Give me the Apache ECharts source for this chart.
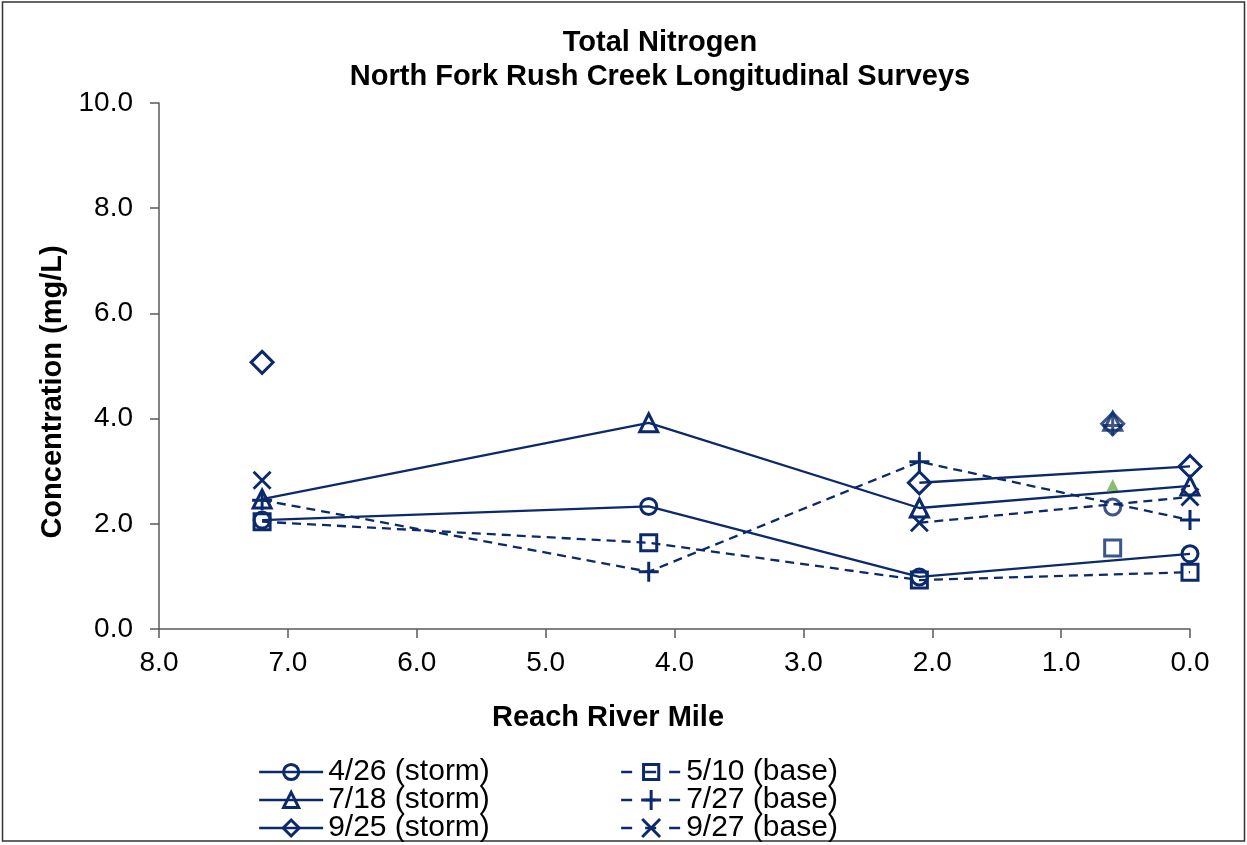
<!DOCTYPE html>
<html>
<head>
<meta charset="utf-8">
<script src="https://cdn.jsdelivr.net/npm/echarts@6/dist/echarts.min.js"></script>
<style>
html,body{margin:0;padding:0;background:#fff;}
#chart{width:1247px;height:845px;}
</style>
</head>
<body>
<div id="chart"></div>
<script>
// ---- data ----
const riverMiles = [7.2, 4.2, 2.1, 0.0];
const tributaryMile = 0.6;
const xTicks = [0, 1, 2, 3, 4, 5, 6, 7, 8];
const yTicks = [0, 2, 4, 6, 8, 10];

const seriesNames = ['4/26 (storm)', '5/10 (base)', '7/18 (storm)', '7/27 (base)', '9/25 (storm)', '9/27 (base)'];
const v0426 = [2.07, 2.33, 0.99, 1.43];
const v0510 = [2.04, 1.64, 0.93, 1.08];
const v0718 = [2.47, 3.92, 2.30, 2.72];
const v0727 = [2.45, 1.09, 3.18, 2.07];
const v0925 = [5.07, null, 2.78, 3.09];
const v0927 = [2.83, null, 2.02, 2.51];
// values at river mile 0.6 (plotted unconnected)
const trib0426 = 2.32;
const trib0510 = 1.54;
const trib0718 = 3.95;
const trib0727 = 3.87;
const trib0925 = 3.90;
const extraGreenTriangle = 2.74;

// ---- styles ----
const NAVY = '#0c2a6b';
const PLUS = 'path://M8.5,0H11.5V8.5H20V11.5H11.5V20H8.5V11.5H0V8.5H8.5Z';
const XMARK = 'path://M0,2.1L2.1,0L10,7.9L17.9,0L20,2.1L12.1,10L20,17.9L17.9,20L10,12.1L2.1,20L0,17.9L7.9,10Z';
const FONT = '"Liberation Sans", Arial, sans-serif';

function pairs(vals){ return riverMiles.map((x,i)=>[x, vals[i]==null ? '-' : vals[i]]); }

const hollow = {color:'rgba(0,0,0,0)', borderColor:NAVY, borderWidth:3};
const filled = {color:NAVY, borderColor:NAVY, borderWidth:0};

const defs = [
  {name:seriesNames[0], vals:v0426, trib:trib0426, symbol:'circle', size:16, dashed:false, style:hollow},
  {name:seriesNames[1], vals:v0510, trib:trib0510, symbol:'rect', size:16, dashed:true, style:hollow},
  {name:seriesNames[2], vals:v0718, trib:trib0718, symbol:'triangle', size:18, dashed:false, style:hollow},
  {name:seriesNames[3], vals:v0727, trib:trib0727, symbol:PLUS, size:20, dashed:true, style:filled},
  {name:seriesNames[4], vals:v0925, trib:trib0925, symbol:'diamond', size:22, dashed:false, style:hollow},
  {name:seriesNames[5], vals:v0927, trib:null, symbol:XMARK, size:19, dashed:true, style:filled}
];

const series = [];
defs.forEach(d=>{
  series.push({
    name:d.name, type:'line', data:pairs(d.vals),
    symbol:d.symbol, symbolSize:d.size, showSymbol:true, showAllSymbol:true,
    connectNulls:false, color:NAVY,
    lineStyle:{color:NAVY, width:2.3, type:d.dashed ? [9,6] : 'solid'},
    itemStyle:d.style, emphasis:{disabled:true}, animation:false, z:3
  });
});
defs.forEach(d=>{
  if (d.trib == null) return;
  series.push({
    name:d.name + ' RM 0.6', type:'scatter', data:[[tributaryMile, d.trib]],
    symbol:d.symbol, symbolSize:d.size, itemStyle:d.style, color:NAVY,
    emphasis:{disabled:true}, animation:false, z:3
  });
});
series.push({
  name:'RM 0.6 extra', type:'scatter', data:[[tributaryMile, extraGreenTriangle]],
  symbol:'triangle', symbolSize:12, itemStyle:{color:'#70ad47'},
  emphasis:{disabled:true}, animation:false, z:2
});

// legends: 2 columns x 3 rows
const legendPos = [
  {name:seriesNames[0], left:258, cy:772, w:64, h:19, hollow:true, dashed:false},
  {name:seriesNames[2], left:258, cy:800, w:64, h:19, hollow:true, dashed:false},
  {name:seriesNames[4], left:258, cy:828, w:64, h:20, hollow:true, dashed:false},
  {name:seriesNames[1], left:620, cy:772, w:60, h:19, hollow:true, dashed:true},
  {name:seriesNames[3], left:620, cy:800, w:60, h:25, hollow:false, dashed:true},
  {name:seriesNames[5], left:620, cy:828, w:60, h:25, hollow:false, dashed:true}
];
const legends = legendPos.map(p=>({
  data:[p.name], left:p.left, top:p.cy-15, padding:0,
  itemWidth:p.w, itemHeight:p.h, itemGap:0, selectedMode:false,
  itemStyle: p.hollow ? {borderWidth:3, borderColor:NAVY, color:'rgba(0,0,0,0)'} : {borderWidth:0, color:NAVY},
  lineStyle:{width:2.3, color:NAVY, type:p.dashed ? [11,13] : 'solid'},
  textStyle:{fontFamily:FONT, fontSize:30, color:'#000', padding:[0,0,0,0]}
}));

const axisLineStyle = {color:'#5a5a5a', width:1.5};

const option = {
  backgroundColor:'#fff',
  animation:false,
  grid:{left:159, right:57, top:103, bottom:216, containLabel:false},
  legend:legends,
  xAxis:{
    type:'value', inverse:true, min:xTicks[0], max:xTicks[xTicks.length-1], interval:1,
    axisLine:{show:true, lineStyle:axisLineStyle, onZero:false},
    axisTick:{show:true, inside:false, length:9, lineStyle:axisLineStyle},
    splitLine:{show:false},
    axisLabel:{formatter:v=>v.toFixed(1), fontFamily:FONT, fontSize:28, color:'#000', margin:20}
  },
  yAxis:{
    type:'value', position:'left', min:yTicks[0], max:yTicks[yTicks.length-1], interval:2,
    axisLine:{show:true, lineStyle:axisLineStyle, onZero:false},
    axisTick:{show:true, inside:false, length:9, lineStyle:axisLineStyle},
    splitLine:{show:false},
    axisLabel:{formatter:v=>v.toFixed(1), fontFamily:FONT, fontSize:28, color:'#000', margin:26}
  },
  graphic:[
    {type:'rect', shape:{x:2.5, y:2, width:1242, height:839}, style:{fill:'none', stroke:'#333', lineWidth:1.5}, silent:true},
    {type:'text', x:660, y:43, style:{text:'Total Nitrogen', font:'bold 29px '+FONT, fill:'#000', textAlign:'center', textVerticalAlign:'middle'}},
    {type:'text', x:660, y:77, style:{text:'North Fork Rush Creek Longitudinal Surveys', font:'bold 29px '+FONT, fill:'#000', textAlign:'center', textVerticalAlign:'middle'}},
    {type:'text', x:53, y:392, rotation:Math.PI/2, style:{text:'Concentration (mg/L)', font:'bold 29px '+FONT, fill:'#000', textAlign:'center', textVerticalAlign:'middle'}},
    {type:'text', x:608, y:718, style:{text:'Reach River Mile', font:'bold 29px '+FONT, fill:'#000', textAlign:'center', textVerticalAlign:'middle'}}
  ],
  series:series
};

const chart = echarts.init(document.getElementById('chart'), null, {renderer:'canvas'});
chart.setOption(option);
</script>
</body>
</html>
